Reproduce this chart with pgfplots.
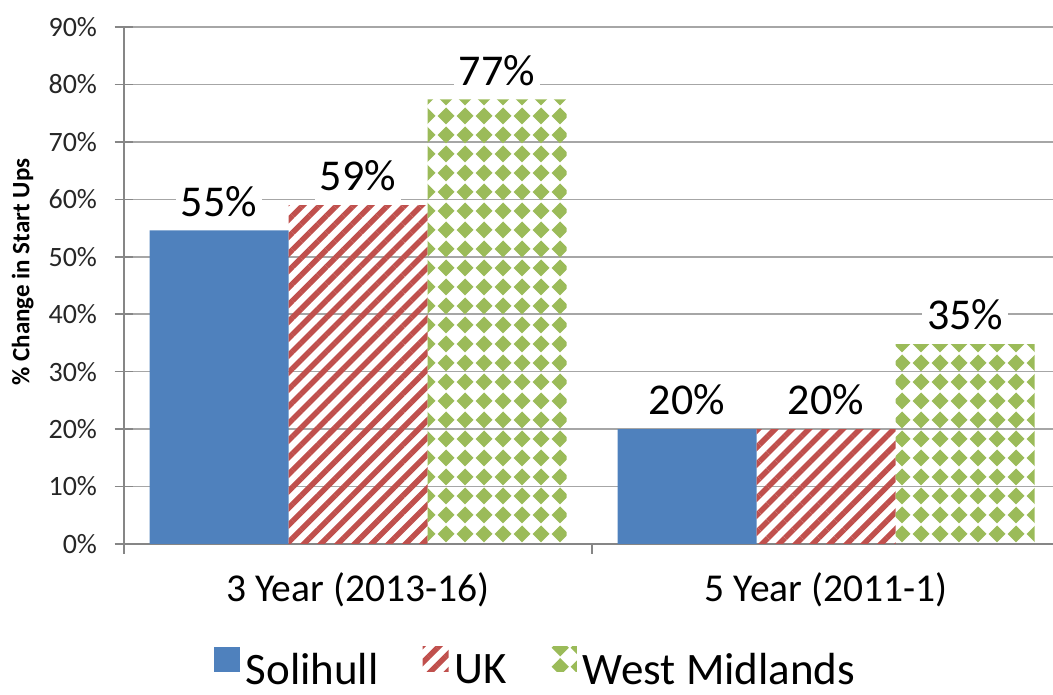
\documentclass[border=0pt]{standalone}
\usepackage{fontspec}
\setmainfont{Carlito}
\usepackage{pgfplots}
\pgfplotsset{compat=1.18}
\usetikzlibrary{patterns,patterns.meta}

\definecolor{solblue}{HTML}{4F81BD}
\definecolor{ukred}{HTML}{C0504D}
\definecolor{wmgreen}{HTML}{9BBB59}
\definecolor{gridgray}{HTML}{A6A6A6}
\definecolor{axisgray}{HTML}{868686}

\tikzdeclarepattern{
  name=wmdiamonds,
  type=uncolored,
  bounding box={(0pt,0pt) and (19pt,19pt)},
  tile size={(19pt,19pt)},
  code={\fill (9.5pt,0.6pt) -- (18.4pt,9.5pt) -- (9.5pt,18.4pt) -- (0.6pt,9.5pt) -- cycle;}
}

\begin{document}
\begin{tikzpicture}
\begin{axis}[
  scale only axis,
  width=929pt, height=517pt,
  ybar=0pt, bar width=139pt,
  xmin=-0.5, xmax=1.485,
  ymin=0, ymax=90,
  ytick={0,10,...,90},
  /pgf/number format/assume math mode=true,
  yticklabel={\pgfmathprintnumber{\tick}\%},
  yticklabel style={font=\fontsize{28}{32}\selectfont, text=black!85, xshift=-14pt},
  xtick={0,1}, xticklabels={3 Year (2013-16),5 Year (2011-1)},
  xticklabel style={font=\fontsize{39.5}{44}\selectfont, yshift=-16pt},
  minor xtick={-0.5,0.5,1.5},
  axis x line*=bottom, axis y line*=left,
  axis line style={axisgray, line width=1.5pt},
  ymajorgrids, grid style={gridgray, line width=1.5pt},
  tick align=center,
  major tick length=19pt, minor tick length=10pt,
  tick style={axisgray, line width=1.5pt},
  major x tick style={draw=none},
  minor x tick style={yshift=-5pt},
  ylabel={\% Change in Start Ups},
  ylabel style={font=\fontsize{25}{30}\selectfont\bfseries, at={(axis description cs:-0.109,0.526)}, anchor=center},
  nodes near coords={\pgfmathprintnumber[fixed,precision=0]{\pgfplotspointmeta}\%},
  every node near coord/.append style={font=\fontsize{44}{50}\selectfont, fill=white, text=black, text depth=0pt, inner xsep=5pt, inner ysep=11pt, anchor=south, yshift=3pt},
  legend style={at={(0.4424,-0.236)}, anchor=center, draw=none, inner sep=0pt, font=\fontsize{45}{54}\selectfont,
    nodes={inner sep=1pt, text depth=0pt},
    /tikz/every even column/.append style={column sep=43pt},
    /tikz/every odd column/.append style={column sep=5pt}},
  legend columns=3,
]
\addplot[draw=none, fill=solblue, legend image code/.code={\fill[solblue] (0pt,-3pt) rectangle (26pt,22pt);}] coordinates {(0,54.6) (1,20.0)};
\addplot[draw=none, pattern={Lines[angle=45,distance=12pt,line width=5.5pt]}, pattern color=ukred, legend image code/.code={\fill[pattern={Lines[angle=45,distance=12pt,line width=5.5pt]}, pattern color=ukred] (0pt,-3pt) rectangle (26pt,22pt);}] coordinates {(0,59.0) (1,20.0)};
\addplot[draw=none, pattern=wmdiamonds, pattern color=wmgreen, legend image code/.code={\fill[pattern=wmdiamonds, pattern color=wmgreen] (0pt,-3pt) rectangle (26pt,22pt);}] coordinates {(0,77.4) (1,34.8)};
\legend{Solihull,UK,West Midlands}
\end{axis}
\pgfresetboundingbox
\path[use as bounding box] ([shift={(-124pt,-151pt)}]current axis.south west) rectangle ([shift={(0pt,27pt)}]current axis.north east);
\end{tikzpicture}
\end{document}
